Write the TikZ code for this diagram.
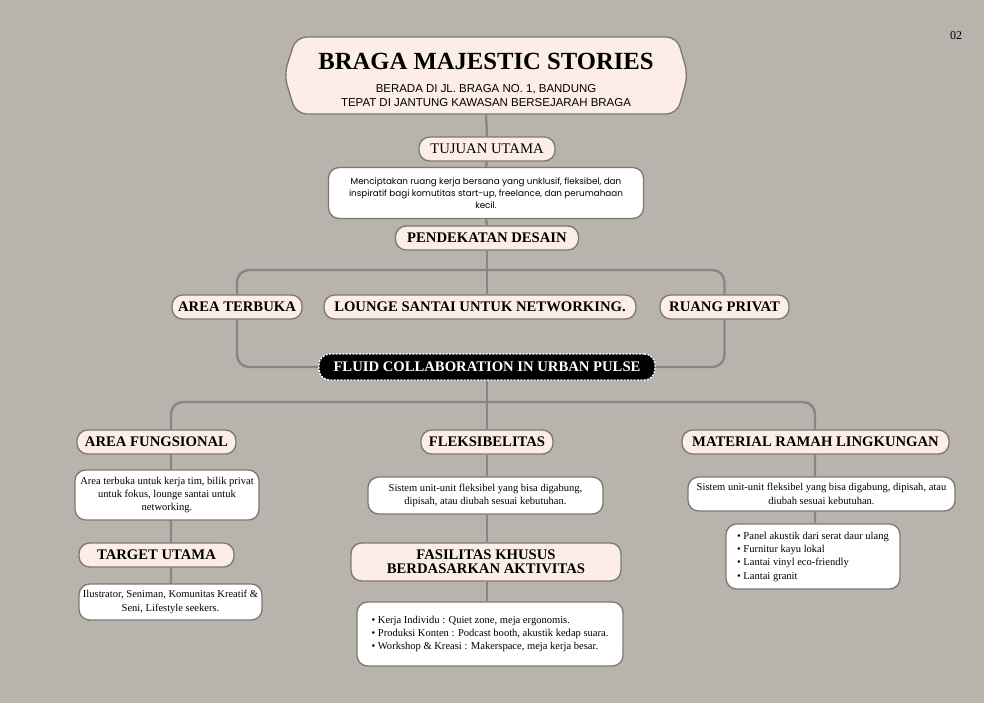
\documentclass[tikz,border=0pt]{standalone}
\usepackage{fontspec}
\setmainfont{Liberation Serif}
\newfontfamily\subf{Liberation Sans}
\newfontfamily\popf{Poppins}
\usetikzlibrary{backgrounds,positioning}
\definecolor{bgc}{HTML}{B8B3AD}
\definecolor{peach}{HTML}{FCEEE6}
\definecolor{edgec}{HTML}{7E7873}
\definecolor{linec}{HTML}{8A8580}
\tikzset{
  pill/.style={draw=edgec,line width=1pt,fill=peach,rounded corners=8pt,inner sep=0pt,
    font=\fontsize{11}{12}\selectfont\bfseries,align=center},
  wbox/.style={draw=edgec,line width=1pt,fill=white,rounded corners=8pt,inner sep=0pt,
    font=\fontsize{7.9}{10}\selectfont,align=center},
  conn/.style={draw=linec,line width=1.8pt,rounded corners=9pt},
}
\begin{document}
\begin{tikzpicture}[x=0.75pt,y=-0.75pt]
\useasboundingbox (0,0) rectangle (984,703);
\draw[draw=edgec,line width=1pt,fill=peach,rounded corners=8pt]
  (296,37) -- (677,37) -- (688,75) -- (677,114) -- (296,114) -- (284,75) -- cycle;
\node (title) [inner sep=0pt,minimum width=0.75*400pt,minimum height=0.75*77pt] at (486,75.5) {};
\node (ttl) at (486,61) {\fontsize{18.5}{20}\selectfont\bfseries BRAGA MAJESTIC STORIES};
\node (sub) [align=center,font=\subf\fontsize{8.6}{10.5}\selectfont] at (486,96) {BERADA DI JL. BRAGA NO. 1, BANDUNG\\TEPAT DI JANTUNG KAWASAN BERSEJARAH BRAGA};
\node (pg) at (956,36) {\fontsize{9}{10}\selectfont 02};

\node (tuj) [pill,minimum width=0.75*136pt,minimum height=0.75*24pt,font=\fontsize{11}{12}\selectfont] at (487,149) {TUJUAN UTAMA};
\node (desc) [wbox,minimum width=0.75*315pt,minimum height=0.75*51pt,font=\popf\fontsize{6.6}{9}\selectfont] at (486,193)
  {Menciptakan ruang kerja bersana yang unklusif, fleksibel, dan\\inspiratif bagi komutitas start-up, freelance, dan perumahaan\\kecil.};
\node (pend) [pill,minimum width=0.75*183pt,minimum height=0.75*24pt] at (487,238) {PENDEKATAN DESAIN};

\node (terb) [pill,minimum width=0.75*130pt,minimum height=0.75*24pt] at (237,307) {AREA TERBUKA};
\node (loun) [pill,minimum width=0.75*312pt,minimum height=0.75*24pt] at (480,307) {LOUNGE SANTAI UNTUK NETWORKING.};
\node (priv) [pill,minimum width=0.75*129pt,minimum height=0.75*24pt] at (724.5,307) {RUANG PRIVAT};

\node (fluid) [fill=black,draw=white,line width=1pt,dash pattern=on 1.5pt off 1pt,rounded corners=8pt,
  minimum width=0.75*336pt,minimum height=0.75*26pt,inner sep=0pt,text=white,
  font=\fontsize{11}{12}\selectfont\bfseries] at (487,367) {FLUID COLLABORATION IN URBAN PULSE};

\node (fung) [pill,minimum width=0.75*159pt,minimum height=0.75*24pt] at (156.5,442) {AREA FUNGSIONAL};
\node (fungd) [wbox,minimum width=0.75*184pt,minimum height=0.75*50pt] at (167,495)
  {Area terbuka untuk kerja tim, bilik privat\\untuk fokus, lounge santai untuk\\networking.};
\node (targ) [pill,minimum width=0.75*155pt,minimum height=0.75*24pt] at (156.5,555) {TARGET UTAMA};
\node (targd) [wbox,minimum width=0.75*183pt,minimum height=0.75*36pt] at (170.5,602)
  {Ilustrator, Seniman, Komunitas Kreatif \&\\Seni, Lifestyle seekers.};

\node (flek) [pill,minimum width=0.75*132pt,minimum height=0.75*24pt] at (487,442) {FLEKSIBELITAS};
\node (flekd) [wbox,minimum width=0.75*235pt,minimum height=0.75*37pt] at (485.5,495.5)
  {Sistem unit-unit fleksibel yang bisa digabung,\\dipisah, atau diubah sesuai kebutuhan.};
\node (fas) [pill,minimum width=0.75*270pt,minimum height=0.75*38pt,font=\fontsize{11}{10.5}\selectfont\bfseries] at (486,562)
  {FASILITAS KHUSUS\\BERDASARKAN AKTIVITAS};
\node (fasd) [wbox,minimum width=0.75*266pt,minimum height=0.75*64pt,align=left] at (490,634)
  {\textbullet\ Kerja Individu : Quiet zone, meja ergonomis.\\
   \textbullet\ Produksi Konten : Podcast booth, akustik kedap suara.\\
   \textbullet\ Workshop \& Kreasi : Makerspace, meja kerja besar.};

\node (mat) [pill,minimum width=0.75*267pt,minimum height=0.75*24pt] at (815.5,442) {MATERIAL RAMAH LINGKUNGAN};
\node (matd) [wbox,minimum width=0.75*267pt,minimum height=0.75*34pt] at (821.5,494)
  {Sistem unit-unit fleksibel yang bisa digabung, dipisah, atau\\diubah sesuai kebutuhan.};
\node (matl) [wbox,minimum width=0.75*174pt,minimum height=0.75*65pt,align=left] at (813,556.5)
  {\textbullet\ Panel akustik dari serat daur ulang\\
   \textbullet\ Furnitur kayu lokal\\
   \textbullet\ Lantai vinyl eco-friendly\\
   \textbullet\ Lantai granit};

\coordinate (j1) at (487,270);
\coordinate (j2) at (487,402);
\coordinate (lt) at (171,402);
\coordinate (lb) at (171,584);
\coordinate (rt) at (815,402);

\begin{scope}[on background layer]
\fill[bgc] (0,0) rectangle (984,703);
\draw[conn] (title.south) -- (tuj.north);
\draw[conn] (tuj.south) -- (desc.north);
\draw[conn] (desc.south) -- (pend.north);
\draw[conn] (pend.south) -- (j1);
\draw[conn] (terb.north) |- (j1) -| (priv.north);
\draw[conn] (loun.north -| j1) -- (j1);
\draw[conn] (terb.south) |- (fluid.west);
\draw[conn] (priv.south) |- (fluid.east);
\draw[conn] (fluid.south) -- (j2);
\draw[conn] (lb) -- (lt) -- (j2) -- (rt) -- (matl.north -| rt);
\draw[conn] (j2) -- (flek.north);
\draw[conn] (flek.south) -- (flekd.north -| flek.south);
\draw[conn] (flekd.south -| flek.south) -- (fas.north -| flek.south);
\draw[conn] (fas.south -| flek.south) -- (fasd.north -| flek.south);
\end{scope}
\end{tikzpicture}
\end{document}
